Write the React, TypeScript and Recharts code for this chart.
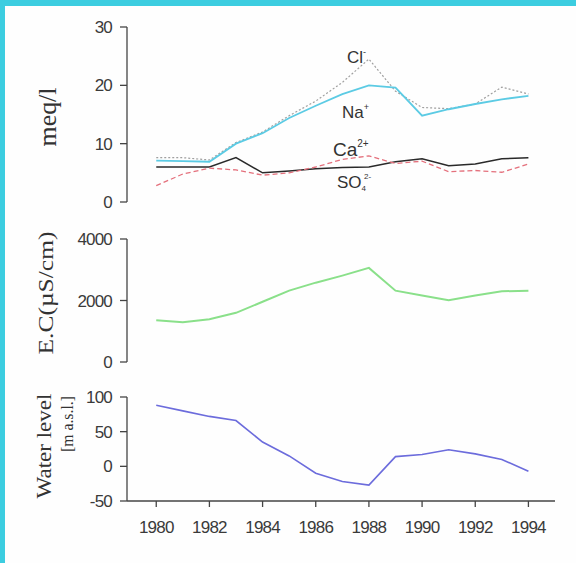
import { LineChart, Line, XAxis, YAxis } from "recharts";

const years = [1980, 1981, 1982, 1983, 1984, 1985, 1986, 1987, 1988, 1989, 1990, 1991, 1992, 1993, 1994];
const yearTicks = [1980, 1982, 1984, 1986, 1988, 1990, 1992, 1994];

// meq/l
const chloride = [7.6, 7.6, 7.2, 10.2, 12, 14.8, 17.3, 20.5, 24.5, 19, 16.2, 16, 16.8, 19.7, 18.5];
const sodium = [7.1, 7.0, 6.9, 10, 11.8, 14.4, 16.5, 18.5, 20, 19.6, 14.8, 15.9, 16.8, 17.6, 18.2];
const calcium = [2.8, 4.8, 5.8, 5.5, 4.6, 5, 6, 7.3, 7.9, 6.6, 7, 5.2, 5.4, 5.1, 6.5];
const sulfate = [6, 6, 6, 7.6, 5, 5.3, 5.7, 5.9, 6, 6.9, 7.4, 6.2, 6.5, 7.4, 7.6];
const meqTicks = [0, 10, 20, 30];

// E.C (uS/cm)
const conductivity = [1360, 1290, 1390, 1600, 1960, 2320, 2580, 2810, 3060, 2320, 2160, 2010, 2160, 2300, 2320];
const ecTicks = [0, 2000, 4000];

// water level (m a.s.l.)
const waterLevel = [88, 80, 72, 66, 35, 15, -10, -22, -27, 14, 17, 24, 18, 10, -7];
const levelTicks = [-50, 0, 50, 100];

const chemData = years.map((year, i) => ({
  year,
  cl: chloride[i],
  na: sodium[i],
  ca: calcium[i],
  so4: sulfate[i],
}));
const ecData = years.map((year, i) => ({ year, ec: conductivity[i] }));
const levelData = years.map((year, i) => ({ year, level: waterLevel[i] }));

const xDomain: [number, number] = [1978.9, 1995];
const axisColor = "#444";
const tickStyle = { fontSize: 17, fill: "#3a3a3a", fontFamily: "Liberation Sans, Arial, sans-serif", letterSpacing: -0.8 };
const serif = "Liberation Serif, Times New Roman, serif";
const sans = "Liberation Sans, Arial, sans-serif";

const yAxisProps = {
  width: 127,
  tickSize: 7,
  tickMargin: 8,
  tick: tickStyle,
  axisLine: { stroke: axisColor, strokeWidth: 1.3 },
  tickLine: { stroke: axisColor, strokeWidth: 1.3 },
  interval: 0 as const,
};

const App = () => {
  return (
    <div style={{ position: "absolute", left: 0, top: 0, width: 576, height: 563, background: "#fefefe", overflow: "hidden" }}>
      {/* frame edges */}
      <div style={{ position: "absolute", left: 0, top: 0, width: 576, height: 6, background: "#3ccde0" }} />
      <div style={{ position: "absolute", left: 0, top: 0, width: 5, height: 563, background: "#3ccde0" }} />

      {/* Ions */}
      <div style={{ position: "absolute", left: 0, top: 0 }}>
        <LineChart width={576} height={220} data={chemData} margin={{ top: 27, right: 21, bottom: 18, left: 0 }}>
          <XAxis dataKey="year" type="number" domain={xDomain} allowDataOverflow hide />
          <YAxis domain={[0, 30]} ticks={meqTicks} {...yAxisProps} />
          <Line dataKey="cl" stroke="#a0a0a0" strokeWidth={1.2} strokeDasharray="2 2" dot={false} isAnimationActive={false} />
          <Line dataKey="na" stroke="#5ccbe4" strokeWidth={1.8} dot={false} isAnimationActive={false} />
          <Line dataKey="so4" stroke="#2a2a2a" strokeWidth={1.5} dot={false} isAnimationActive={false} />
          <Line dataKey="ca" stroke="#e4707c" strokeWidth={1.3} strokeDasharray="5 3" dot={false} isAnimationActive={false} />
        </LineChart>
      </div>

      {/* Conductivity */}
      <div style={{ position: "absolute", left: 0, top: 220 }}>
        <LineChart width={576} height={160} data={ecData} margin={{ top: 19, right: 21, bottom: 18, left: 0 }}>
          <XAxis dataKey="year" type="number" domain={xDomain} allowDataOverflow hide />
          <YAxis domain={[0, 4000]} ticks={ecTicks} {...yAxisProps} />
          <Line dataKey="ec" stroke="#8ae08a" strokeWidth={2} dot={false} isAnimationActive={false} />
        </LineChart>
      </div>

      {/* Water level */}
      <div style={{ position: "absolute", left: 0, top: 380 }}>
        <LineChart width={576} height={171} data={levelData} margin={{ top: 17, right: 21, bottom: 0, left: 0 }}>
          <XAxis
            dataKey="year"
            type="number"
            domain={xDomain}
            allowDataOverflow
            ticks={yearTicks}
            interval={0}
            height={50}
            tickSize={6}
            tickMargin={14}
            tick={tickStyle}
            axisLine={{ stroke: axisColor, strokeWidth: 1.3 }}
            tickLine={{ stroke: axisColor, strokeWidth: 1.3 }}
          />
          <YAxis domain={[-50, 100]} ticks={levelTicks} {...yAxisProps} />
          <Line dataKey="level" stroke="#6c6cdc" strokeWidth={1.6} dot={false} isAnimationActive={false} />
        </LineChart>
      </div>

      {/* axis titles and series labels */}
      <svg width={576} height={563} style={{ position: "absolute", left: 0, top: 0, pointerEvents: "none" }}>
        <g fill="#333">
          <text transform="translate(47,117) rotate(-90)" textAnchor="middle" dominantBaseline="central"
            fontFamily={serif} fontSize={25} textLength={59} lengthAdjust="spacingAndGlyphs">meq/l</text>
          <text transform="translate(45,293) rotate(-90)" textAnchor="middle" dominantBaseline="central"
            fontFamily={serif} fontSize={22} textLength={123} lengthAdjust="spacingAndGlyphs">E.C(µS/cm)</text>
          <text transform="translate(44,446) rotate(-90)" textAnchor="middle" dominantBaseline="central"
            fontFamily={serif} fontSize={20} textLength={105} lengthAdjust="spacingAndGlyphs">Water level</text>
          <text transform="translate(67,424) rotate(-90)" textAnchor="middle" dominantBaseline="central"
            fontFamily={serif} fontSize={17} textLength={56} lengthAdjust="spacingAndGlyphs">[m a.s.l.]</text>
        </g>
        <g fill="#333" fontFamily={sans}>
          <text x={347} y={63} fontSize={17}>Cl<tspan dy={-8} fontSize={9}>-</tspan></text>
          <text x={342} y={118} fontSize={17}>Na<tspan dy={-8} fontSize={9}>+</tspan></text>
          <text x={333} y={156} fontSize={19}>Ca<tspan dy={-9} fontSize={10}>2+</tspan></text>
          <text x={337} y={188} fontSize={17}>SO<tspan dy={3} fontSize={8}>4</tspan><tspan dy={-12} dx={-2} fontSize={8}>2-</tspan></text>
        </g>
      </svg>
    </div>
  );
};

export default App;
